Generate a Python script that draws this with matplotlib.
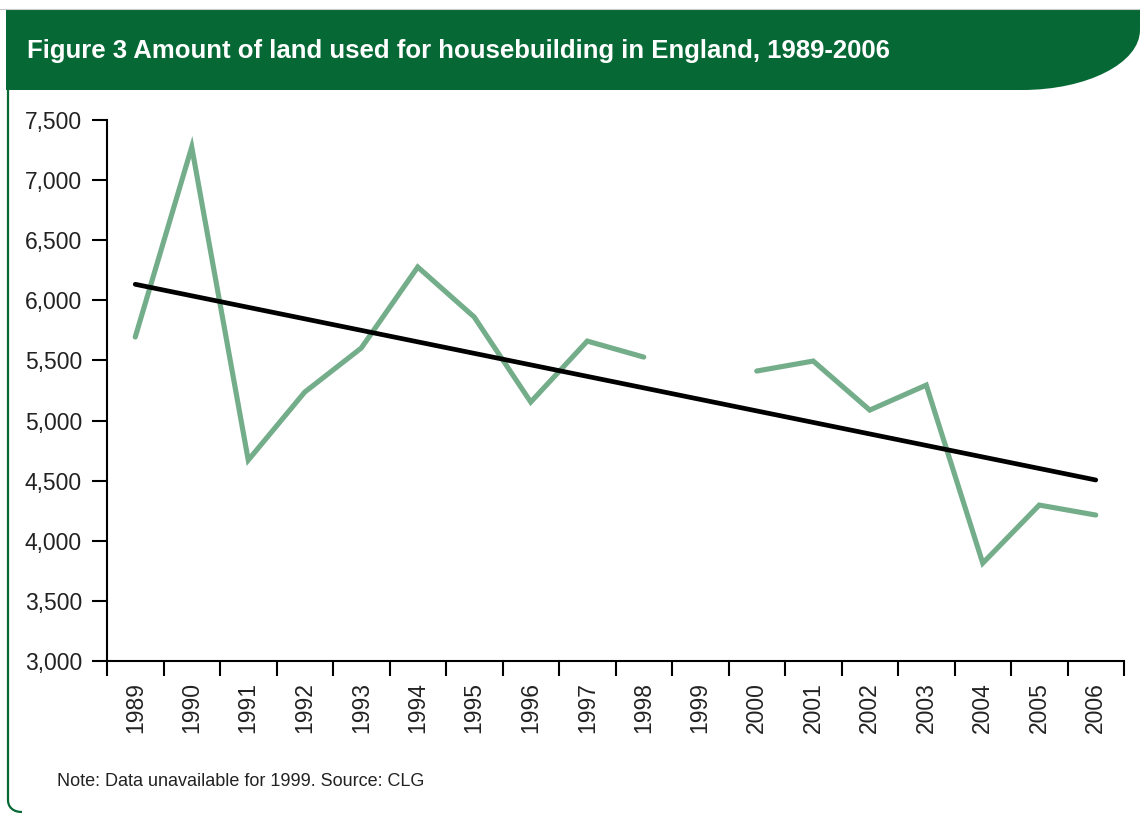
"""Land used for housebuilding in England, 1989-2006, with a linear trend."""

import numpy as np
import matplotlib.pyplot as plt
from matplotlib.patches import PathPatch
from matplotlib.path import Path
from matplotlib.ticker import FixedLocator, StrMethodFormatter

plt.rcParams["font.family"] = ["Liberation Sans", "DejaVu Sans"]

years = [str(y) for y in range(1989, 2007)]
# hectares; no figure was published for 1999
land_used = [5695, 7275, 4671, 5237, 5603, 6277, 5861, 5154, 5661, 5528,
             np.nan, 5412, 5495, 5087, 5295, 3814, 4297, 4214]

title = "Figure 3 Amount of land used for housebuilding in England, 1989-2006"
note = "Note: Data unavailable for 1999. Source: CLG"

HEADER_GREEN = "#066935"
LINE_GREEN = "#74ad8a"
TEXT = "#222222"

W, H = 1140, 813


def fx(x):
    return x / W


def fy(y):
    return 1 - y / H


fig = plt.figure(figsize=(W / 100, H / 100), dpi=100)

# title band with a rounded lower-right corner
k = 0.5523
cx, cy, rx, ry = 1022, 30, 118, 60
verts = [
    (6, 10), (W, 10), (W, cy),
    (W, cy + k * ry), (cx + k * rx, cy + ry), (cx, cy + ry),
    (6, 90), (6, 10),
]
codes = [Path.MOVETO, Path.LINETO, Path.LINETO,
         Path.CURVE4, Path.CURVE4, Path.CURVE4,
         Path.LINETO, Path.CLOSEPOLY]
band = Path([(fx(x), fy(y)) for x, y in verts], codes)
fig.patches.append(PathPatch(band, transform=fig.transFigure,
                             facecolor=HEADER_GREEN, edgecolor="none"))
fig.add_artist(plt.Line2D([0, 1], [fy(9.5), fy(9.5)], transform=fig.transFigure,
                          color="#c8c8c8", lw=0.8))

# frame edge down the left side
frame = Path([(fx(8), fy(90)), (fx(8), fy(800)),
              (fx(8), fy(807)), (fx(13), fy(812)), (fx(22), fy(812))],
             [Path.MOVETO, Path.LINETO, Path.CURVE4, Path.CURVE4, Path.CURVE4])
fig.patches.append(PathPatch(frame, transform=fig.transFigure, facecolor="none",
                             edgecolor=HEADER_GREEN, lw=1.6))

fig.text(fx(27), fy(51), title, color="white", fontsize=18.5, fontweight="bold",
         va="center", ha="left")
fig.text(fx(57), fy(781), note, color=TEXT, fontsize=13, va="center", ha="left")

ax = fig.add_axes([fx(107), fy(661), fx(1124) - fx(107), fy(120) - fy(661)])

x = np.arange(len(years))
y = np.array(land_used, dtype=float)
ax.plot(x, y, color=LINE_GREEN, lw=3.7, solid_capstyle="round",
        solid_joinstyle="miter")

ok = ~np.isnan(y)
slope, intercept = np.polyfit(x[ok], y[ok], 1)
ends = np.array([x[0], x[-1]])
ax.plot(ends, slope * ends + intercept, color="black", lw=3.4,
        solid_capstyle="round")

ax.set_xlim(-0.5, len(years) - 0.5)
ax.set_ylim(3000, 7500)

ax.xaxis.set_major_locator(FixedLocator(np.arange(len(years) + 1) - 0.5))
ax.xaxis.set_minor_locator(FixedLocator(x))
ax.set_xticklabels([], minor=False)
ax.set_xticklabels(years, minor=True, rotation=90, va="top", ha="center")
ax.tick_params(axis="x", which="major", direction="out", length=11, width=1.5,
               color="black")
ax.tick_params(axis="x", which="minor", length=0, pad=15, labelsize=16.5,
               labelcolor=TEXT)

ax.set_yticks(np.arange(3000, 7501, 500))
ax.yaxis.set_major_formatter(StrMethodFormatter("{x:,.0f}"))
ax.tick_params(axis="y", direction="out", length=11, width=1.5, pad=7,
               labelsize=16.5, labelcolor=TEXT)

for side in ("top", "right"):
    ax.spines[side].set_visible(False)
for side in ("left", "bottom"):
    ax.spines[side].set_linewidth(1.5)

fig.savefig("out.png", dpi=100)
